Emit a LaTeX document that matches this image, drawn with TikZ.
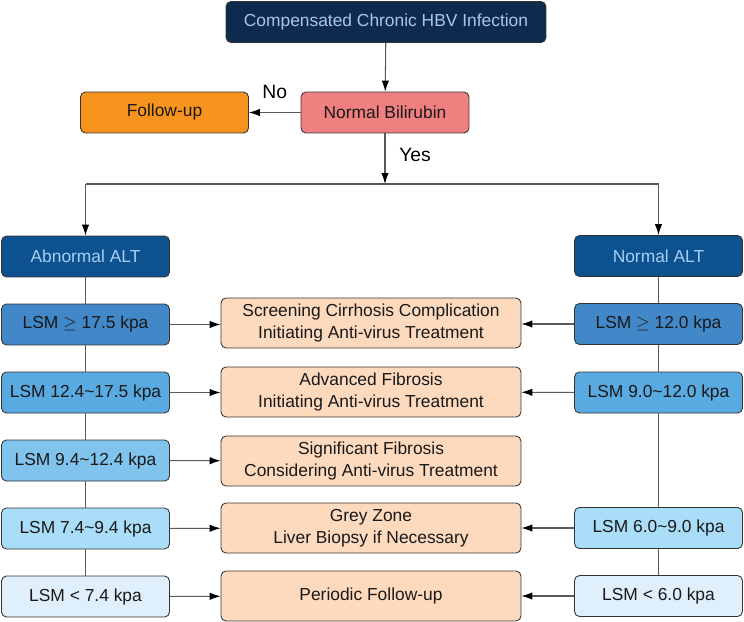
\documentclass[tikz,border=0pt]{standalone}
\usepackage{fontspec}
\setmainfont{Liberation Sans}
\usetikzlibrary{arrows.meta}

\definecolor{navy}{HTML}{0E2A4D}
\definecolor{navyText}{HTML}{A9C8E6}
\definecolor{altBlue}{HTML}{0D518F}
\definecolor{altText}{HTML}{A3D0F5}
\definecolor{lsmA}{HTML}{4287C8}
\definecolor{lsmB}{HTML}{5AAAE2}
\definecolor{lsmC}{HTML}{80C4EE}
\definecolor{lsmD}{HTML}{AADDF7}
\definecolor{lsmE}{HTML}{DFEFFB}
\definecolor{peach}{HTML}{FDDABE}
\definecolor{salmon}{HTML}{F08080}
\definecolor{orangeBox}{HTML}{F7941E}

\begin{document}
\begin{tikzpicture}
            [x=0.02cm, y=-0.02cm,
        box/.style={rectangle, draw=black!80, line width=0.5pt, rounded corners=1mm,
            minimum width=3.36cm, minimum height=0.82cm, inner sep=1pt,
            align=center, text=black!90, font=\fontsize{9.9}{12.5}\selectfont},
        boxMid/.style={box, fill=peach, minimum width=6cm, minimum height=1cm},
        boxAlt/.style={box, fill=altBlue, text=altText},
        link/.style={line width=0.6pt, draw=black!65},
        arr/.style={link, -{Latex[length=2.2mm,width=1.5mm,black]}}]
            \useasboundingbox (0,0) rectangle (744,622);

            \node[box, fill=navy, text=navyText, minimum width=6.4cm] (T) at (386,22) {Compensated Chronic HBV Infection};
            \node[box, fill=salmon] (B) at (385,112.5) {Normal Bilirubin};
            \node[box, fill=orangeBox] (F) at (164.5,112.5) {Follow-up};
            \coordinate (S) at (385,184);

            \node[boxAlt] (A) at (85.5,256.5) {Abnormal ALT};
            \node[box, fill=lsmA] (A1) at (85.5,324.5) {LSM $\geq$ 17.5 kpa};
            \node[box, fill=lsmB] (A2) at (85.5,392.5) {LSM 12.4\textasciitilde 17.5 kpa};
            \node[box, fill=lsmC] (A3) at (85.5,460.5) {LSM 9.4\textasciitilde 12.4 kpa};
            \node[box, fill=lsmD] (A4) at (85.5,528.5) {LSM 7.4\textasciitilde 9.4 kpa};
            \node[box, fill=lsmE] (A5) at (85.5,596.5) {LSM < 7.4 kpa};

            \node[boxAlt] (N) at (658.5,256) {Normal ALT};
            \node[box, fill=lsmA] (N1) at (658.5,324) {LSM $\geq$ 12.0 kpa};
            \node[box, fill=lsmB] (N2) at (658.5,392.5) {LSM 9.0\textasciitilde 12.0 kpa};
            \node[box, fill=lsmD] (N4) at (658.5,528) {LSM 6.0\textasciitilde 9.0 kpa};
            \node[box, fill=lsmE] (N5) at (658.5,596) {LSM < 6.0 kpa};

            \node[boxMid] (M1) at (371,323) {Screening Cirrhosis Complication\\Initiating Anti-virus Treatment};
            \node[boxMid] (M2) at (371,392) {Advanced Fibrosis\\Initiating Anti-virus Treatment};
            \node[boxMid] (M3) at (371,461) {Significant Fibrosis\\Considering Anti-virus Treatment};
            \node[boxMid] (M4) at (371,528) {Grey Zone\\Liver Biopsy if Necessary};
            \node[boxMid] (M5) at (371,596) {Periodic Follow-up};

            \draw[arr] (T) -- (B);
            \draw[arr] (B) -- (F) node[midway, above=4pt, font=\fontsize{11}{13}\selectfont] {No};
            \draw[arr] (B) -- (S) node[midway, right=4.5pt, yshift=2pt, font=\fontsize{11}{13}\selectfont] {Yes};
            \draw[link] (A |- S) -- (N |- S);
            \draw[arr] (A |- S) -- (A);
            \draw[arr] (N |- S) -- (N);

            \draw[link] (A) -- (A1);
            \draw[link] (A1) -- (A2);
            \draw[link] (A2) -- (A3);
            \draw[link] (A3) -- (A4);
            \draw[link] (A4) -- (A5);

            \draw[link] (N) -- (N1);
            \draw[link] (N1) -- (N2);
            \draw[link] (N2) -- (N4);
            \draw[link] (N4) -- (N5);

            \draw[arr] (A1) -- (M1.west |- A1);
            \draw[arr] (A2) -- (M2.west |- A2);
            \draw[arr] (A3) -- (M3);
            \draw[arr] (A4) -- (M4);
            \draw[arr] (A5) -- (M5);
            \draw[arr] (N1) -- (M1.east |- N1);
            \draw[arr] (N2) -- (M2);
            \draw[arr] (N4) -- (M4);
            \draw[arr] (N5) -- (M5);
        \end{tikzpicture}
\end{document}
